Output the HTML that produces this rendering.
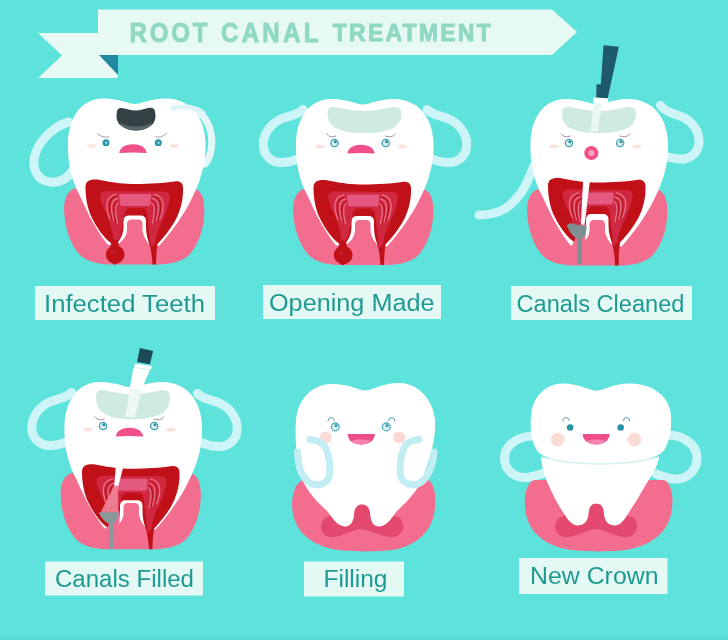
<!DOCTYPE html>
<html>
<head>
<meta charset="utf-8">
<title>Root Canal Treatment</title>
<style>
html,body{margin:0;padding:0;background:#5de3dc;}
body{width:728px;height:640px;overflow:hidden;font-family:"Liberation Sans",sans-serif;}
svg{display:block;}
text{font-family:"Liberation Sans",sans-serif;}
.lbl{fill:#1f9a92;font-size:23.5px;}
.box{fill:#e4f9f4;}
</style>
</head>
<body>
<svg width="728" height="640" viewBox="0 0 728 640">
<filter id="soft" x="-2%" y="-2%" width="104%" height="104%" color-interpolation-filters="sRGB"><feGaussianBlur stdDeviation="0.650"/></filter>
<g filter="url(#soft)">
<defs>
  <!-- gum for cross-section teeth (tooth 1 absolute coords) -->
  <path id="gumA" d="M74,188.500 C66,192 63.500,202 64.200,212 C65,228 70,244 80,255 C88,262 98,264.500 114,264.500 L155,264.500 C170,264.500 181,262 189,255 C199,244 204,228 204.300,212 C204.500,202 203,192 195.500,189 Z"/>
  <!-- tooth body -->
  <path id="bodyA" d="M135,104 C129,104 117,97.500 101,98.500 C81,100 69,117 68,142 C67,165 73,183 79.500,195 C85,207 93,226 108,245 L119.500,243 C123.500,240 126.500,236 127,230 L127,224 Q127,219.500 131.500,219.500 L138,219.500 Q142.500,219.500 142.500,224 L142.500,230 C143,236 146,240 149,244 L159,246 C170,234 184,215 192,198 C199.500,183 206.500,165 205.500,142 C204.500,117 191,100 168,98.500 C153,97.500 141,104 135,104 Z"/>
  <!-- red dentin + canals + abscess -->
  <g id="redA">
    <path fill="#c01018" d="M85.500,187 C85.500,180.500 91,178.500 100,180 C115,183 125,184 135,184 C150,184 165,183 174,181.500 C180,180.500 183,183 183,188 C183.500,200 180,212 175,221 C170,230 163,238 157.500,244 C156.500,251 156,258 156,264.500 L152.500,264.500 C152,256 151,249 149,243 C147,238 146,232 146,226 L146,221 Q146,215.500 140.500,215.500 L129,215.500 Q123.500,215.500 123.500,221 L123.500,226 C123.500,232 121.500,238 118,242 C118.500,245 119.500,246.500 120,247.500 L110,247.500 C111,246 111.500,244 111,243 C104,238 97,228 92,218 C87,208 85.500,196 85.500,187 Z"/>
    <path fill="#cf2840" d="M100,196 C100,192.500 103,191 108,191 L163,191.500 C168,191.500 170.500,193.500 170,197 C169,207 164,218 159,228 C157,233 155.500,239 155,244 L151,248 C150,240 148.500,225 147,214 C146.500,210 145,208 141,208 L130,208 C127,208 125.500,210 125,213 C123,222 121,232 119,240 L113.500,240 C112.500,232 110,222 106.500,214 C103.500,207 100.500,201 100,196 Z"/>
    <path fill="#e3597f" d="M120,194 L150,194 C151,194 151.500,195 151.300,196 L150,206 L120.500,206 L119,196 C118.800,195 119.300,194 120,194 Z"/>
    <g fill="none" stroke="#e8718c" stroke-width="1.300" stroke-linecap="round">
      <path d="M116,194.500 C106,196 104.500,206 110,219"/>
      <path d="M117.500,198.500 C110.500,200 110,208 114,221"/>
      <path d="M118.500,203 C115,204.500 115,212 117.500,223"/>
      <path d="M154,194.500 C164,196 165.500,206 160,219"/>
      <path d="M152.500,198.500 C159.500,200 160,208 156,221"/>
      <path d="M151.500,203 C155,204.500 155,212 152.500,223"/>
    </g>
    <g fill="none" stroke="#b30e16" stroke-width="0.900" stroke-linecap="round">
      <path d="M116.500,196.500 C108.500,198 107.500,207 112,220"/>
      <path d="M118,201 C113,202.500 112.500,210 115.500,222"/>
      <path d="M153.500,196.500 C161.500,198 162.500,207 158,220"/>
      <path d="M152,201 C157,202.500 157.500,210 154.500,222"/>
    </g>
  </g>
  <g id="absA">
    <circle cx="115.200" cy="254.500" r="9.300" fill="#c01018"/>
    <path fill="#c01018" d="M112,262 L113.500,264.500 L116,264.500 L117,262 Z"/>
    <circle cx="113" cy="252" r="2" fill="#c4202f"/>
  </g>
  <!-- sad face (eyes, brows, cheeks) -->
  <g id="faceSad">
    <ellipse cx="91.500" cy="146" rx="4.500" ry="2" fill="#fde5e2"/>
    <ellipse cx="174" cy="146" rx="4.500" ry="2" fill="#fde5e2"/>
    <circle cx="106" cy="142.700" r="3.500" fill="#2b93a3"/>
    <circle cx="158.300" cy="142.700" r="3.500" fill="#2b93a3"/>
    <circle cx="106.300" cy="143" r="1.400" fill="#7fcdd6"/>
    <circle cx="158.600" cy="143" r="1.400" fill="#7fcdd6"/>
    <path d="M97.500,133.700 C100,136.500 104,137.500 108.800,137" fill="none" stroke="#a99aa8" stroke-width="1" stroke-linecap="round"/>
    <path d="M166.500,133.200 C164,136.500 160,137.500 155.800,137" fill="none" stroke="#a99aa8" stroke-width="1" stroke-linecap="round"/>
  </g>
  <g id="faceSad2">
    <ellipse cx="91.500" cy="146" rx="4.500" ry="2" fill="#fce2de"/>
    <ellipse cx="174.500" cy="146" rx="4.500" ry="2" fill="#fce2de"/>
    <circle cx="106.500" cy="142.500" r="3.600" fill="#dcf2f4" stroke="#3fa2b2" stroke-width="1.300"/>
    <circle cx="157.700" cy="142.500" r="3.600" fill="#dcf2f4" stroke="#3fa2b2" stroke-width="1.300"/>
    <circle cx="107.300" cy="141.300" r="1.500" fill="#2b8fa0"/>
    <circle cx="158.500" cy="141.300" r="1.500" fill="#2b8fa0"/>
    <path d="M98.500,133.300 C101,136.500 104,137 107.700,135.500" fill="none" stroke="#9a8d9c" stroke-width="1" stroke-linecap="round"/>
    <path d="M167.400,133.300 C165,136.500 162,137 157.500,135.500" fill="none" stroke="#9a8d9c" stroke-width="1" stroke-linecap="round"/>
  </g>
  <path id="mouthSad" d="M119.200,153 C120.500,147 126,144.300 133,144.300 C140,144.300 145.500,147 146.800,153 C138,152.200 128,152.200 119.200,153 Z" fill="#f0518b"/>
  <path id="openA" d="M100,109.500 C101,106.500 104,106 107,106.500 C117,108.500 127,110.500 136,110.500 C145,110.500 155,108.500 165,106.500 C169,106 172,107 173,110 C174.500,116 172,123 167,126.500 C158,131.500 147,132.500 136,132.500 C125,132.500 114,131.500 106,126.500 C101,123 98.500,116 100,109.500 Z" fill="#cfeae2"/>
</defs>
<rect width="728" height="640" fill="#5de3dc"/>
<rect y="636" width="728" height="4" fill="#58dad5"/>

<!-- banner -->
<g id="banner">
  <path d="M38,33 L118,33 L118,78 L38,78 L62,55.500 Z" fill="#e6f9f3"/>
  <path d="M99,55 L118,55 L118,75 Z" fill="#2287a0"/>
  <path d="M98,9.500 L552,9.500 L577,32 L552,55 L98,55 Z" fill="#e6f9f3"/>
  <g font-weight="bold" fill="#8fd8c4" stroke="#8fd8c4" stroke-width="0.900" stroke-linejoin="round">
  <text transform="translate(129.500,41.600) scale(0.900,1)" font-size="26.800" textLength="86.700" lengthAdjust="spacing">ROOT</text>
  <text transform="translate(221,41.600) scale(0.900,1)" font-size="26.800" textLength="108.300" lengthAdjust="spacing">CANAL</text>
  <text transform="translate(332.800,40.800) scale(0.940,1)" font-size="24.500" textLength="168" lengthAdjust="spacing">TREATMENT</text>
  </g>
</g>

<!-- labels -->
<g id="labels">
  <rect class="box" x="35" y="286" width="180" height="34"/>
  <text class="lbl" x="44" y="311.500" textLength="161" lengthAdjust="spacingAndGlyphs">Infected Teeth</text>
  <rect class="box" x="263" y="285" width="178" height="34"/>
  <text class="lbl" x="269" y="310.800" textLength="165.500" lengthAdjust="spacingAndGlyphs">Opening Made</text>
  <rect class="box" x="511" y="286" width="181" height="34"/>
  <text class="lbl" x="516.500" y="312" textLength="168" lengthAdjust="spacingAndGlyphs">Canals Cleaned</text>
  <rect class="box" x="45" y="561.500" width="158" height="34"/>
  <text class="lbl" x="55" y="586.500" textLength="139" lengthAdjust="spacingAndGlyphs">Canals Filled</text>
  <rect class="box" x="304" y="561.500" width="100" height="35"/>
  <text class="lbl" x="323.500" y="586.500" textLength="64" lengthAdjust="spacingAndGlyphs">Filling</text>
  <rect class="box" x="519" y="558" width="148.500" height="36"/>
  <text class="lbl" x="530" y="583.500" textLength="128.500" lengthAdjust="spacingAndGlyphs">New Crown</text>
</g>

<!-- tooth 1 -->
<g id="t1">
  <path d="M69,122 C56,125 41,138 35.500,153 C31,167 36,180.500 50,182 C60,183 68,178 73,170" fill="none" stroke="#cdf4f6" stroke-width="9" stroke-linecap="round"/>
  <use href="#gumA" fill="#f26d8e"/>
  <path d="M198,111 C209,120 213,134 211.500,147 C210.500,155 208,161 205,164" fill="none" stroke="#e3f7f9" stroke-width="7" stroke-linecap="round"/>
  <use href="#bodyA" fill="#ffffff"/>
  <use href="#redA"/><use href="#absA"/>
  <path d="M173,108.500 C182,105 194,106.500 203,113" fill="none" stroke="#dcf4f7" stroke-width="5" stroke-linecap="round"/>
  <path d="M117,111.400 C117.500,108.500 119.500,107.800 121.500,108 C127,109 132,110.600 136,110.600 C140,110.600 145,108.500 149.200,107.800 C152.500,107.500 154.500,108.500 155,111.400 C156.500,118 154.500,123 150.900,125.800 C146,129.500 141,130.400 136,130.400 C131,130.400 126,129.500 121.200,125.800 C117.500,123 115.500,118 117,111.400 Z" fill="#334145"/>
  <path d="M119.500,122.500 C125,125.500 131,126.500 136,126.500 C141,126.500 147,125.500 152.500,122.500 C151.500,124 151,125 150.900,125.800 C146,129.500 141,130.400 136,130.400 C131,130.400 126,129.500 121.200,125.800 C120.500,124.500 120,123.500 119.500,122.500 Z" fill="#566668"/>
  <use href="#faceSad"/>
  <use href="#mouthSad"/>
</g>
<!-- tooth 2 -->
<g id="t2" transform="translate(228,0.500)">
  <path transform="translate(0,3)" d="M75,106 C70,112 60,112 52,116 C40,122 34,134 35.500,144 C37,154 46,160 55,159 C62,158.500 67,157 71,155" fill="none" stroke="#cdf4f6" stroke-width="9" stroke-linecap="round"/>
  <path transform="translate(0,3)" d="M199,106 C204,112 214,112 222,116 C234,122 240,134 238.500,144 C237,154 228,160 219,159 C212,158.500 207,157 203,155" fill="none" stroke="#cdf4f6" stroke-width="9" stroke-linecap="round"/>
  <use href="#gumA" fill="#f26d8e" transform="translate(1,0)"/>
  <use href="#bodyA" fill="#ffffff"/>
  <use href="#redA"/><use href="#absA"/>
  <use href="#openA"/>
  <use href="#faceSad2"/>
  <use href="#mouthSad"/>
</g>
<!-- tooth 3 -->
<g id="t3" transform="translate(462.500,0.500)">
  <path d="M71,166 C66,180 62,188 58,193 C52,201 46,207 38,210.500 C31,213.500 24,214.500 16.500,214.500" fill="none" stroke="#cdf4f6" stroke-width="9" stroke-linecap="round"/>
  <path d="M198,105 C203,112 212,113 221,117 C231,122 237,132 236.500,142 C236,152 228,159 218,158.500 C212,158 207,157 203,156" fill="none" stroke="#cdf4f6" stroke-width="9" stroke-linecap="round"/>
  <use href="#gumA" fill="#f26d8e" transform="translate(0.500,0.500)"/>
  <use href="#bodyA" fill="#ffffff"/>
  <use href="#redA" transform="translate(0,-2)"/><rect x="152.500" y="258" width="3.500" height="7" fill="#c01018"/>
  <use href="#openA"/>
  <!-- instrument -->
  <path d="M141,44.800 L156.400,46.200 L145.200,97.800 L133.700,96.900 L134,84 L138.300,83.700 Z" fill="#1f5a6b"/>
  <path d="M131,97 L146,98 L144.500,104 L130.500,103 Z" fill="#ffffff"/>
  <path d="M131.400,103 L139.200,103.500 L135.500,131 L128,131 Z" fill="#eaf7f4"/>
  <path d="M120.800,176 L128,176 L121.800,226 L118.300,226 Z" fill="#ffffff"/>
  <path d="M118.500,224 L123,224 L123,248.500 L108.500,248.500 L110.500,243.500 Z" fill="#f26d8e"/>
  <path d="M104.500,225 C106.500,222 110,222.500 113,224 L124,225.500 C124.500,231 122.500,236 119.500,238.500 L119.500,263.500 L115,263.500 L115,238.500 C111,236 106,231 104.500,225 Z" fill="#7f8e90"/>
  <use href="#faceSad2"/>
  <circle cx="128.800" cy="152.600" r="7" fill="#f0518b"/>
  <circle cx="128.800" cy="152.600" r="3" fill="#f7a3c0"/>
</g>
<!-- tooth 4 -->
<g id="t4" transform="translate(-3.500,283.500)">
  <path transform="translate(0,3)" d="M75,106 C70,112 60,112 52,116 C40,122 34,134 35.500,144 C37,154 46,160 55,159 C62,158.500 67,157 71,155" fill="none" stroke="#cdf4f6" stroke-width="9" stroke-linecap="round"/>
  <path transform="translate(2,4)" d="M199,106 C204,112 214,112 222,116 C234,122 240,134 238.500,144 C237,154 228,160 219,159 C212,158.500 207,157 203,155" fill="none" stroke="#cdf4f6" stroke-width="9" stroke-linecap="round"/>
  <use href="#gumA" fill="#f26d8e" transform="translate(0,1.200)"/>
  <use href="#bodyA" fill="#ffffff"/>
  <use href="#redA" transform="translate(0,1.200)"/>
  <use href="#openA" transform="translate(0,-12.700) scale(1,1.120)"/>
  <!-- syringe -->
  <path d="M143.300,64.500 L156.600,67.400 L153.400,80.700 L140.700,78.500 Z" fill="#1c4a56"/>
  <path d="M138.500,80 L155.500,82.500 L154.500,86 L137.500,84 Z" fill="#ffffff"/>
  <path d="M137,84 L153.500,86.300 L145,106 L133.300,104.500 Z" fill="#ffffff"/>
  <path d="M133.300,104.500 L145,106 L138.400,134 L129.100,133 Z" fill="#eef9f6"/>
  <g transform="translate(0,1.200)">
  <path d="M119.400,181 L127.200,181 L121.600,202 L117.600,202 Z" fill="#ffffff"/>
  <path d="M117.600,201 L121.600,201 L121.600,228 L104,228 Z" fill="#f08398" opacity="0.900"/>
  <path d="M118.500,226 L123,226 L123,248.500 L108.500,248.500 L110.500,243.500 Z" fill="#f26d8e"/>
  <path d="M102.500,227.500 L122,227.500 C122,233 119.500,237 117,239 L117,264.500 L112.500,264.500 L112.500,239 C108.500,237 104,233 102.500,227.500 Z" fill="#8a999b"/>
  </g>
  <use href="#faceSad2"/>
  <use href="#mouthSad"/>
</g>
<!-- tooth 5 -->
<g id="t5">
  <path d="M303,480 C292,484 290,505 294,518 C299,535 315,546 335,549.500 C350,552 380,552 395,549.500 C413,546 428,535 433,518 C437,505 436.500,484 428,480 Z" fill="#f26d8e"/>
  <path d="M325,518 C319,524 320,533 328,536.500 C338,539.500 350,530 361,529 C372,530 386,539.500 396,536.500 C404,533 405,524 400,518 L380,510 L370,504 L355,504 L343,510 Z" fill="#e3486f"/>
  <path d="M365.500,390.500 C359,390.500 348,383.500 331,384 C312,384.500 298,399 296,420 C294.500,440 297,465 303,481 C307,491 318,503 327,511 C331,516 337,526.500 345,526.500 C350,526.500 353.500,522 354,515 C354.300,508 357,504.500 362,504.500 C367,504.500 370,508 370.300,515 C370.800,522 374,526.500 379,526.500 C387,526.500 393,516 397,511 C406,503 417,491 421.500,481 C428,465 436.500,440 435,420 C433,399 418,383.500 399.500,383 C383,382.500 372,390.500 365.500,390.500 Z" fill="#ffffff"/>
  <circle cx="325.700" cy="437.400" r="6" fill="#fbdad4"/>
  <circle cx="399.300" cy="437.400" r="6" fill="#fbdad4"/>
  <path d="M310,439.500 C316,440 322,442 325,447 C329,454 331,466 329.500,475 C328,484 317,487 310,483 C302,478 298,466 297.500,452" fill="none" stroke="#c2edf2" stroke-width="7" stroke-linecap="round"/>
  <path d="M419,439.500 C413,440 407,442 404.500,447 C401,454 399,466 400.500,475 C402,484 413,487 420,483 C428,478 433,466 434,452" fill="none" stroke="#c2edf2" stroke-width="7" stroke-linecap="round"/>
  <circle cx="335.300" cy="426.900" r="3.900" fill="#dcf2f4" stroke="#4fb0bd" stroke-width="1.300"/>
  <circle cx="386.300" cy="426.900" r="3.900" fill="#dcf2f4" stroke="#4fb0bd" stroke-width="1.300"/>
  <circle cx="336" cy="425.600" r="1.600" fill="#3a9dae"/>
  <circle cx="387" cy="425.600" r="1.600" fill="#3a9dae"/>
  <path d="M328,421 A3.200,3.200 0 0 1 334.400,420.500" fill="none" stroke="#5b9fb0" stroke-width="1" stroke-linecap="round"/>
  <path d="M388.500,420.500 A3.200,3.200 0 0 1 394.900,421" fill="none" stroke="#5b9fb0" stroke-width="1" stroke-linecap="round"/>
  <path d="M347.600,434 L375,434 C374.500,441 368.500,444.500 361.300,444.500 C354,444.500 348,441 347.600,434 Z" fill="#ee4d8c"/>
  <path d="M351.500,441 C355,439 367,439 371,441 C368.500,443.500 365,444.500 361.300,444.500 C357.500,444.500 354,443.500 351.500,441 Z" fill="#f682ad"/>
</g>
<!-- tooth 6 -->
<g id="t6">
  <path d="M533,436 C520,436 504.500,444 504.500,458 C504.500,470 514,478 526,477.500 C533,477 539,475 544,473" fill="none" stroke="#cdf4f6" stroke-width="9" stroke-linecap="round"/>
  <path d="M668,435 C682,435 697,444 697,458 C697,471 687,479.500 675,479 C668,478.500 661,476 656,474" fill="none" stroke="#cdf4f6" stroke-width="9" stroke-linecap="round"/>
  <path d="M534,480 C524,484 523,505 527,518 C532,535 548,546 568,549.500 C583,552 613,552 628,549.500 C648,546 665,535 670,518 C674,505 674,484 664,480 Z" fill="#f26d8e"/>
  <path d="M559,518 C553,524 554,533 562,536.500 C572,539.500 585,530 596,529 C607,530 620,539.500 630,536.500 C638,533 639,524 634,518 L614,510 L604,504 L589,504 L577,510 Z" fill="#e3486f"/>
  <path d="M541,458 C542,468 545,478 549,486 C553,495 557,503 561,509 C565,515 570,525.500 577.500,525.500 C584,525.500 588,521 588.500,514 C589,507 591.500,503.500 596.300,503.500 C601,503.500 603.500,507 604,514 C604.500,521 608.500,525.500 615,525.500 C622.500,525.500 627,515 631,509 C635,503 640,495 645,486 C650,478 657,468 659,458 Z" fill="#ffffff"/>
  <path d="M596.300,390.800 C590,390.800 578,383 562,383.500 C546,384 534,396 531.500,412 C529.500,426 531,438 535,447 C538,453.500 543,456.500 552,458.500 C566,461.500 585,462.500 599.500,462.500 C614,462.500 634,461.500 648,458.500 C657,456.500 663,453.500 666,447 C670,438 672.500,426 670.500,412 C668,396 653,384 631,383.500 C614,383 602,390.800 596.300,390.800 Z" fill="#ffffff"/>
  <path d="M541,457 C560,462.500 580,464 599.500,464 C619,464 640,462.500 659,457" fill="none" stroke="#d7f1f1" stroke-width="1.500"/>
  <circle cx="557.800" cy="439.600" r="7" fill="#fbdcd6"/>
  <circle cx="634.300" cy="439.600" r="7" fill="#fbdcd6"/>
  <circle cx="570.100" cy="427.500" r="3.300" fill="#2a93a8"/>
  <circle cx="620.700" cy="427.500" r="3.300" fill="#2a93a8"/>
  <path d="M562.800,421 A3.200,3.200 0 0 1 569.200,420.500" fill="none" stroke="#5b9fb0" stroke-width="1" stroke-linecap="round"/>
  <path d="M623.400,420.500 A3.200,3.200 0 0 1 629.800,421" fill="none" stroke="#5b9fb0" stroke-width="1" stroke-linecap="round"/>
  <path d="M582.600,434 L609.700,434 C609.200,441 603.500,444.500 596.200,444.500 C589,444.500 583,441 582.600,434 Z" fill="#ee4d8c"/>
  <path d="M586.500,441 C590,439 602,439 606,441 C603.500,443.500 600,444.500 596.200,444.500 C592.500,444.500 589,443.500 586.500,441 Z" fill="#f682ad"/>
</g>
</g>
</svg>
</body>
</html>
